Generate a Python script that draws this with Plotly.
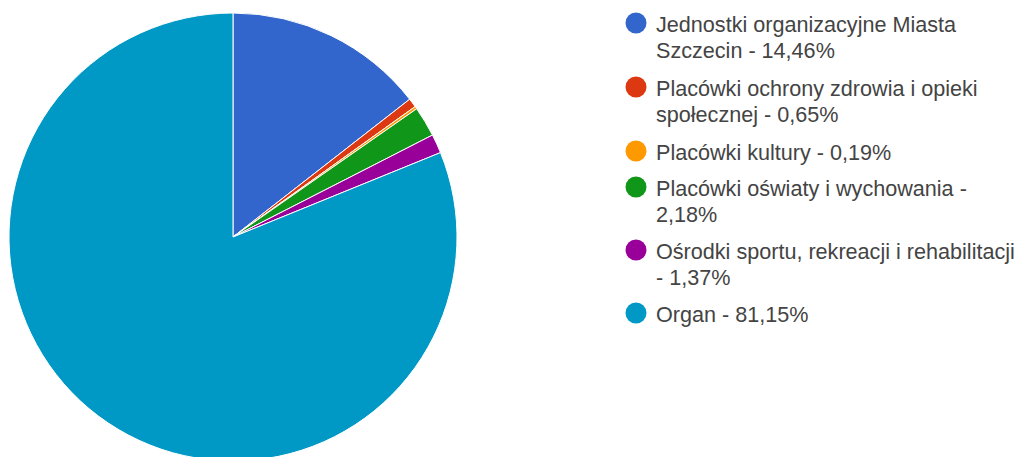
import plotly.graph_objects as go

categories = [
    "Jednostki organizacyjne Miasta Szczecin",
    "Placówki ochrony zdrowia i opieki społecznej",
    "Placówki kultury",
    "Placówki oświaty i wychowania",
    "Ośrodki sportu, rekreacji i rehabilitacji",
    "Organ",
]
values = [14.46, 0.65, 0.19, 2.18, 1.37, 81.15]
legend_lines = [
    ["Jednostki organizacyjne Miasta", "Szczecin - 14,46%"],
    ["Placówki ochrony zdrowia i opieki", "społecznej - 0,65%"],
    ["Placówki kultury - 0,19%"],
    ["Placówki oświaty i wychowania -", "2,18%"],
    ["Ośrodki sportu, rekreacji i rehabilitacji", "- 1,37%"],
    ["Organ - 81,15%"],
]
colors = ["#3366CC", "#DC3912", "#FF9900", "#109618", "#990099", "#0099C6"]

W, H = 1024, 457
OFF = 8  # page body margin offset

# pie: center (233,237), radius 224 in page pixels
pcx, pcy, pr = 233 - OFF, 237 - OFF, 224
fig = go.Figure(go.Pie(
    labels=categories,
    values=values,
    sort=False,
    direction="clockwise",
    rotation=0,
    textinfo="none",
    hoverinfo="label+percent",
    marker=dict(colors=colors, line=dict(color="white", width=1)),
    domain=dict(x=[(pcx - pr) / W, (pcx + pr) / W],
                y=[1 - (pcy + pr) / H, 1 - (pcy - pr) / H]),
    showlegend=False,
))

# manual legend (circles + text)
marker_cy = [23, 87, 151, 187, 250, 313]
line_gap = 26
cx, rad, text_x = 636 - OFF, 10.5, 655 - OFF
shapes, annotations = [], []
for lines, col, cy in zip(legend_lines, colors, marker_cy):
    cy -= OFF
    shapes.append(dict(
        type="circle", xref="paper", yref="paper",
        x0=(cx - rad) / W, x1=(cx + rad) / W,
        y0=1 - (cy + rad) / H, y1=1 - (cy - rad) / H,
        fillcolor=col, line=dict(width=0),
    ))
    for k, ln in enumerate(lines):
        ly = cy + k * line_gap
        annotations.append(dict(
            xref="paper", yref="paper", x=text_x / W, y=1 - (ly + 1.5) / H,
            xanchor="left", yanchor="middle", align="left", showarrow=False,
            text=ln, borderpad=0,
            font=dict(family="Liberation Sans, Arial, sans-serif", size=21.6, color="#444444"),
        ))

fig.update_layout(
    width=W, height=H, autosize=False,
    margin=dict(l=0, r=0, t=0, b=0),
    paper_bgcolor="white", plot_bgcolor="white",
    shapes=shapes, annotations=annotations,
)

fig.write_html("out.html")
